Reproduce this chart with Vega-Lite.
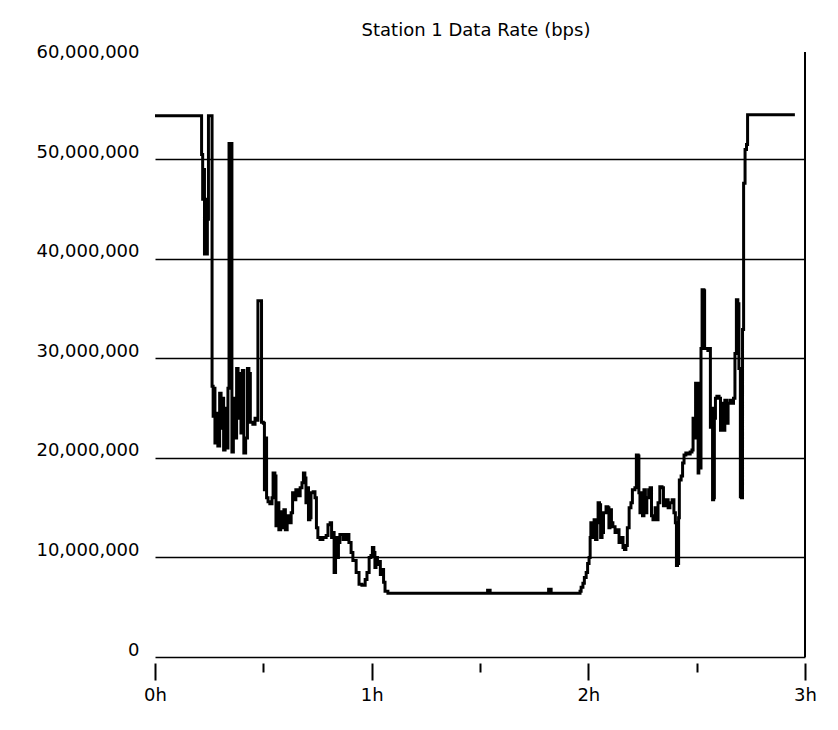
{
  "$schema": "https://vega.github.io/schema/vega-lite/v6.json",
  "autosize": {"type": "none"},
  "padding": {"left": 155, "top": 52, "right": 33, "bottom": 73},
  "width": 650,
  "height": 605,
  "background": "white",
  "title": {
    "text": "Station 1 Data Rate (bps)",
    "font": "DejaVu Sans",
    "fontSize": 18,
    "fontWeight": "normal",
    "color": "black",
    "baseline": "alphabetic",
    "offset": 17,
    "dx": -4,
    "dy": 27
  },
  "config": {
    "view": {"stroke": null},
    "axis": {"labelFont": "DejaVu Sans", "labelFontSize": 18, "labelColor": "black", "title": null}
  },
  "data": {
    "values": [
      {"minute": 0, "bps": 54400000}, {"minute": 12.5, "bps": 54400000}, {"minute": 12.9, "bps": 50500000},
      {"minute": 13.2, "bps": 46000000}, {"minute": 13.4, "bps": 49000000}, {"minute": 13.7, "bps": 40500000},
      {"minute": 14.0, "bps": 46000000}, {"minute": 14.3, "bps": 40500000}, {"minute": 14.5, "bps": 44000000},
      {"minute": 14.8, "bps": 54400000}, {"minute": 15.5, "bps": 54400000}, {"minute": 15.8, "bps": 27200000},
      {"minute": 16.1, "bps": 24200000}, {"minute": 16.3, "bps": 27000000}, {"minute": 16.6, "bps": 21500000},
      {"minute": 17.0, "bps": 24500000}, {"minute": 17.4, "bps": 21200000}, {"minute": 17.9, "bps": 26500000},
      {"minute": 18.3, "bps": 23000000}, {"minute": 18.6, "bps": 26000000}, {"minute": 19.0, "bps": 20800000},
      {"minute": 19.4, "bps": 25000000}, {"minute": 19.8, "bps": 21000000}, {"minute": 20.2, "bps": 27000000},
      {"minute": 20.5, "bps": 51600000}, {"minute": 21.0, "bps": 51600000}, {"minute": 21.3, "bps": 20600000},
      {"minute": 21.7, "bps": 26000000}, {"minute": 22.2, "bps": 22000000}, {"minute": 22.6, "bps": 29000000},
      {"minute": 23.0, "bps": 24000000}, {"minute": 23.4, "bps": 28500000}, {"minute": 23.8, "bps": 22500000},
      {"minute": 24.2, "bps": 28800000}, {"minute": 24.6, "bps": 20500000}, {"minute": 25.1, "bps": 22000000},
      {"minute": 25.6, "bps": 29000000}, {"minute": 26.0, "bps": 28500000}, {"minute": 26.4, "bps": 23600000},
      {"minute": 27.1, "bps": 23400000}, {"minute": 27.7, "bps": 24000000}, {"minute": 28.2, "bps": 23800000},
      {"minute": 28.5, "bps": 35800000}, {"minute": 29.2, "bps": 35800000}, {"minute": 29.5, "bps": 23600000},
      {"minute": 30.0, "bps": 23500000}, {"minute": 30.3, "bps": 16800000}, {"minute": 30.6, "bps": 22000000},
      {"minute": 30.9, "bps": 16000000}, {"minute": 31.3, "bps": 15600000}, {"minute": 31.8, "bps": 15400000},
      {"minute": 32.4, "bps": 16000000}, {"minute": 32.7, "bps": 18500000}, {"minute": 33.2, "bps": 18200000},
      {"minute": 33.5, "bps": 13200000}, {"minute": 33.9, "bps": 15500000}, {"minute": 34.3, "bps": 12800000},
      {"minute": 34.8, "bps": 14600000}, {"minute": 35.2, "bps": 13000000}, {"minute": 35.7, "bps": 14800000},
      {"minute": 36.1, "bps": 12800000}, {"minute": 36.6, "bps": 14200000}, {"minute": 37.1, "bps": 13500000},
      {"minute": 37.7, "bps": 14500000}, {"minute": 38.1, "bps": 16500000}, {"minute": 38.5, "bps": 15800000},
      {"minute": 39.0, "bps": 16800000}, {"minute": 39.6, "bps": 16200000}, {"minute": 40.2, "bps": 17000000},
      {"minute": 40.7, "bps": 17500000}, {"minute": 41.1, "bps": 18500000}, {"minute": 41.5, "bps": 18000000},
      {"minute": 41.8, "bps": 15500000}, {"minute": 42.2, "bps": 17000000}, {"minute": 42.5, "bps": 13800000},
      {"minute": 42.9, "bps": 14000000}, {"minute": 43.2, "bps": 16500000}, {"minute": 43.8, "bps": 16600000},
      {"minute": 44.3, "bps": 16000000}, {"minute": 44.7, "bps": 13000000}, {"minute": 45.1, "bps": 12000000},
      {"minute": 45.7, "bps": 11800000}, {"minute": 46.5, "bps": 12000000}, {"minute": 47.4, "bps": 12200000},
      {"minute": 47.9, "bps": 13300000}, {"minute": 48.5, "bps": 13500000}, {"minute": 48.9, "bps": 12000000},
      {"minute": 49.3, "bps": 12500000}, {"minute": 49.6, "bps": 8500000}, {"minute": 50.0, "bps": 12000000},
      {"minute": 50.4, "bps": 10000000}, {"minute": 50.8, "bps": 11500000}, {"minute": 51.2, "bps": 12300000},
      {"minute": 52.1, "bps": 11800000}, {"minute": 52.9, "bps": 12300000}, {"minute": 53.7, "bps": 11500000},
      {"minute": 54.3, "bps": 10500000}, {"minute": 54.8, "bps": 9700000}, {"minute": 55.7, "bps": 8500000},
      {"minute": 56.5, "bps": 7300000}, {"minute": 57.3, "bps": 7200000}, {"minute": 58.2, "bps": 7800000},
      {"minute": 58.7, "bps": 8500000}, {"minute": 59.3, "bps": 10000000}, {"minute": 59.8, "bps": 10200000},
      {"minute": 60.2, "bps": 11000000}, {"minute": 60.6, "bps": 10500000}, {"minute": 60.9, "bps": 9000000},
      {"minute": 61.2, "bps": 10000000}, {"minute": 61.6, "bps": 9300000}, {"minute": 62.0, "bps": 9600000},
      {"minute": 62.4, "bps": 8300000}, {"minute": 62.9, "bps": 8800000}, {"minute": 63.3, "bps": 7500000},
      {"minute": 63.7, "bps": 6600000}, {"minute": 64.5, "bps": 6400000}, {"minute": 91.4, "bps": 6400000},
      {"minute": 92.1, "bps": 6700000}, {"minute": 92.8, "bps": 6400000}, {"minute": 108.3, "bps": 6400000},
      {"minute": 109.0, "bps": 6800000}, {"minute": 109.7, "bps": 6400000}, {"minute": 117.1, "bps": 6400000},
      {"minute": 117.7, "bps": 6600000}, {"minute": 118.0, "bps": 7000000}, {"minute": 118.5, "bps": 7400000},
      {"minute": 118.9, "bps": 8000000}, {"minute": 119.4, "bps": 8500000}, {"minute": 119.8, "bps": 9400000},
      {"minute": 120.2, "bps": 10000000}, {"minute": 120.5, "bps": 12000000}, {"minute": 120.7, "bps": 13500000},
      {"minute": 121.2, "bps": 12000000}, {"minute": 121.6, "bps": 13800000}, {"minute": 122.0, "bps": 11800000},
      {"minute": 122.4, "bps": 13500000}, {"minute": 122.7, "bps": 15500000}, {"minute": 123.1, "bps": 15300000},
      {"minute": 123.4, "bps": 12000000}, {"minute": 123.8, "bps": 12500000}, {"minute": 124.2, "bps": 14500000},
      {"minute": 124.9, "bps": 15100000}, {"minute": 125.4, "bps": 15000000}, {"minute": 125.7, "bps": 13000000},
      {"minute": 126.0, "bps": 14800000}, {"minute": 126.4, "bps": 13500000}, {"minute": 126.8, "bps": 13100000},
      {"minute": 127.4, "bps": 12500000}, {"minute": 127.9, "bps": 12800000}, {"minute": 128.5, "bps": 11500000},
      {"minute": 129.0, "bps": 12000000}, {"minute": 129.6, "bps": 11000000}, {"minute": 130.0, "bps": 10800000},
      {"minute": 130.4, "bps": 11200000}, {"minute": 130.8, "bps": 13000000}, {"minute": 131.3, "bps": 15000000},
      {"minute": 131.8, "bps": 15500000}, {"minute": 132.2, "bps": 16800000}, {"minute": 132.9, "bps": 17000000},
      {"minute": 133.3, "bps": 20300000}, {"minute": 133.8, "bps": 20200000}, {"minute": 134.0, "bps": 16500000},
      {"minute": 134.3, "bps": 14500000}, {"minute": 134.7, "bps": 16500000}, {"minute": 135.0, "bps": 14200000},
      {"minute": 135.4, "bps": 16800000}, {"minute": 135.8, "bps": 14500000}, {"minute": 136.2, "bps": 16000000},
      {"minute": 136.7, "bps": 16800000}, {"minute": 137.1, "bps": 17000000}, {"minute": 137.5, "bps": 14200000},
      {"minute": 137.9, "bps": 13800000}, {"minute": 138.5, "bps": 15000000}, {"minute": 138.9, "bps": 13800000},
      {"minute": 139.3, "bps": 15500000}, {"minute": 139.8, "bps": 17100000}, {"minute": 140.4, "bps": 17000000},
      {"minute": 140.8, "bps": 15200000}, {"minute": 141.5, "bps": 15800000}, {"minute": 142.1, "bps": 15000000},
      {"minute": 142.6, "bps": 15500000}, {"minute": 143.2, "bps": 15800000}, {"minute": 143.7, "bps": 14500000},
      {"minute": 144.1, "bps": 13500000}, {"minute": 144.4, "bps": 9200000}, {"minute": 144.7, "bps": 9400000},
      {"minute": 145.0, "bps": 14000000}, {"minute": 145.2, "bps": 17800000}, {"minute": 145.7, "bps": 18200000},
      {"minute": 146.1, "bps": 19500000}, {"minute": 146.5, "bps": 20300000}, {"minute": 147.0, "bps": 20500000},
      {"minute": 147.6, "bps": 20400000}, {"minute": 148.2, "bps": 20600000}, {"minute": 148.7, "bps": 20800000},
      {"minute": 149.0, "bps": 24000000}, {"minute": 149.4, "bps": 22000000}, {"minute": 149.7, "bps": 27500000},
      {"minute": 150.1, "bps": 27500000}, {"minute": 150.4, "bps": 18500000}, {"minute": 150.6, "bps": 24000000},
      {"minute": 150.9, "bps": 19000000}, {"minute": 151.2, "bps": 31000000}, {"minute": 151.5, "bps": 36900000},
      {"minute": 152.0, "bps": 36800000}, {"minute": 152.2, "bps": 31000000}, {"minute": 152.6, "bps": 31000000},
      {"minute": 153.1, "bps": 30800000}, {"minute": 153.6, "bps": 31000000}, {"minute": 153.8, "bps": 23100000},
      {"minute": 154.1, "bps": 25000000}, {"minute": 154.4, "bps": 15800000}, {"minute": 154.7, "bps": 16000000},
      {"minute": 154.9, "bps": 24000000}, {"minute": 155.2, "bps": 26000000}, {"minute": 155.6, "bps": 26200000},
      {"minute": 156.2, "bps": 26000000}, {"minute": 156.6, "bps": 22800000}, {"minute": 157.0, "bps": 25500000},
      {"minute": 157.4, "bps": 22800000}, {"minute": 157.8, "bps": 25800000}, {"minute": 158.3, "bps": 23500000},
      {"minute": 158.7, "bps": 25500000}, {"minute": 159.2, "bps": 25800000}, {"minute": 159.8, "bps": 25500000},
      {"minute": 160.2, "bps": 26000000}, {"minute": 160.6, "bps": 30500000}, {"minute": 161.0, "bps": 35900000},
      {"minute": 161.4, "bps": 35500000}, {"minute": 161.7, "bps": 29000000}, {"minute": 162.1, "bps": 16100000},
      {"minute": 162.4, "bps": 16000000}, {"minute": 162.7, "bps": 32900000}, {"minute": 163.0, "bps": 47600000},
      {"minute": 163.4, "bps": 51000000}, {"minute": 163.8, "bps": 51500000}, {"minute": 164.1, "bps": 54500000},
      {"minute": 177.2, "bps": 54500000}
    ]
  },
  "layer": [
    {
      "mark": {"type": "line", "interpolate": "step-after", "color": "black", "strokeWidth": 3, "strokeJoin": "miter"},
      "encoding": {
        "x": {
          "field": "minute",
          "type": "quantitative",
          "scale": {"domain": [0, 180], "nice": false, "zero": false},
          "axis": {
            "values": [0, 30, 60, 90, 120, 150, 180],
            "labelExpr": "datum.value % 60 === 0 ? (datum.value / 60) + 'h' : ''",
            "labelFlush": false,
            "domain": false,
            "grid": false,
            "offset": 6,
            "tickColor": "black",
            "tickWidth": 2,
            "tickSize": {"condition": {"test": "datum.value % 60 === 0", "value": 17}, "value": 9},
            "labelPadding": 6,
            "labelAngle": 0
          }
        },
        "y": {
          "field": "bps",
          "type": "quantitative",
          "scale": {"domain": [0, 60800000], "nice": false},
          "axis": {
            "values": [0, 10000000, 20000000, 30000000, 40000000, 50000000, 60000000],
            "format": ",d",
            "domain": false,
            "ticks": false,
            "labelPadding": 16,
            "labelOffset": -7,
            "grid": true,
            "gridColor": "black",
            "gridWidth": 1.5,
            "gridOpacity": {"condition": {"test": "datum.value > 55000000", "value": 0}, "value": 1}
          }
        }
      }
    },
    {
      "mark": {"type": "rule", "color": "black", "strokeWidth": 1.5},
      "encoding": {
        "x": {"datum": 180},
        "y": {"datum": 0},
        "y2": {"datum": 60800000}
      }
    }
  ]
}
